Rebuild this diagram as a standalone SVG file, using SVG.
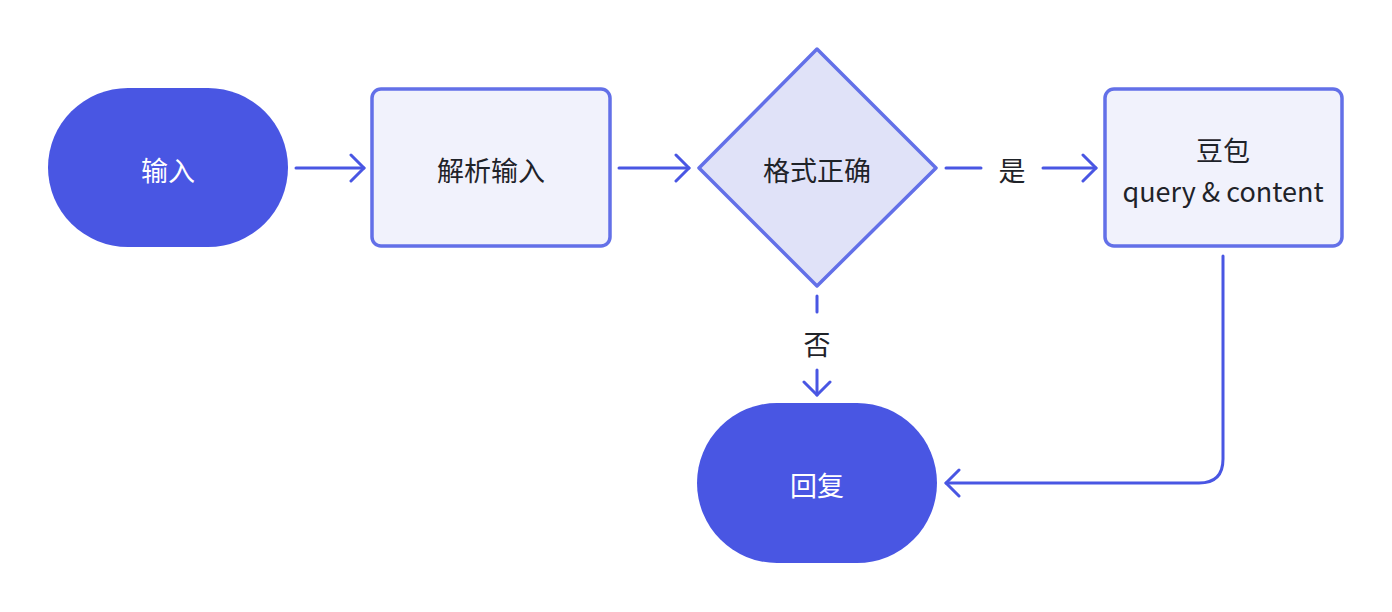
<svg xmlns="http://www.w3.org/2000/svg" width="1392" height="612" viewBox="0 0 1392 612">
<style>
.term{fill:#4956E3;}
.proc{fill:#F1F2FC;stroke:#6370E8;stroke-width:3.5;}
.dec{fill:#E0E2F8;stroke:#6370E8;stroke-width:3.5;stroke-linejoin:round;}
.tw{font-family:"Noto Sans CJK SC","Noto Sans",sans-serif;font-size:27px;fill:#FFFFFF;text-anchor:middle;dominant-baseline:central;}
.td{font-family:"Noto Sans CJK SC","Noto Sans",sans-serif;font-size:27px;fill:#1F2329;text-anchor:middle;dominant-baseline:central;}
.ln{fill:none;stroke:#4956E3;stroke-width:3;stroke-linecap:round;stroke-linejoin:round;}
</style>
<defs>
<marker id="arr" viewBox="0 0 20 30" refX="16" refY="15" markerWidth="20" markerHeight="30" markerUnits="userSpaceOnUse" orient="auto">
<path d="M3 2 L16 15 L3 28" fill="none" stroke="#4956E3" stroke-width="3" stroke-linecap="round" stroke-linejoin="round"/>
</marker>
</defs>
<g id="connectors">
<path class="ln" d="M296 168 H364" marker-end="url(#arr)"/>
<path class="ln" d="M619 168 H689" marker-end="url(#arr)"/>
<path class="ln" d="M946 168 H981"/>
<path class="ln" d="M1043 168 H1096" marker-end="url(#arr)"/>
<path class="ln" d="M817 296 V312"/>
<path class="ln" d="M817 370 V395" marker-end="url(#arr)"/>
<path class="ln" d="M1223 256 V459 Q1223 483 1199 483 H946" marker-end="url(#arr)"/>
<text class="td" x="1012" y="169">是</text>
<text class="td" x="817" y="343">否</text>
</g>
<g id="node-input">
<rect class="term" x="48" y="88" width="240" height="159" rx="80" ry="79.5"/>
<text class="tw" x="168" y="169">输入</text>
</g>
<g id="node-parse">
<rect class="proc" x="372" y="89" width="238" height="157" rx="9"/>
<text class="td" x="491" y="169">解析输入</text>
</g>
<g id="node-check">
<path class="dec" d="M817 49 L936 168 L817 286 L699 168 Z"/>
<text class="td" x="817" y="169">格式正确</text>
</g>
<g id="node-doubao">
<rect class="proc" x="1105" y="89" width="237" height="157" rx="9"/>
<text class="td" x="1223" y="149">豆包</text>
<text class="td" x="1223" y="190">query &amp; content</text>
</g>
<g id="node-reply">
<rect class="term" x="697" y="403" width="240" height="160" rx="80" ry="80"/>
<text class="tw" x="817" y="484">回复</text>
</g>
</svg>
